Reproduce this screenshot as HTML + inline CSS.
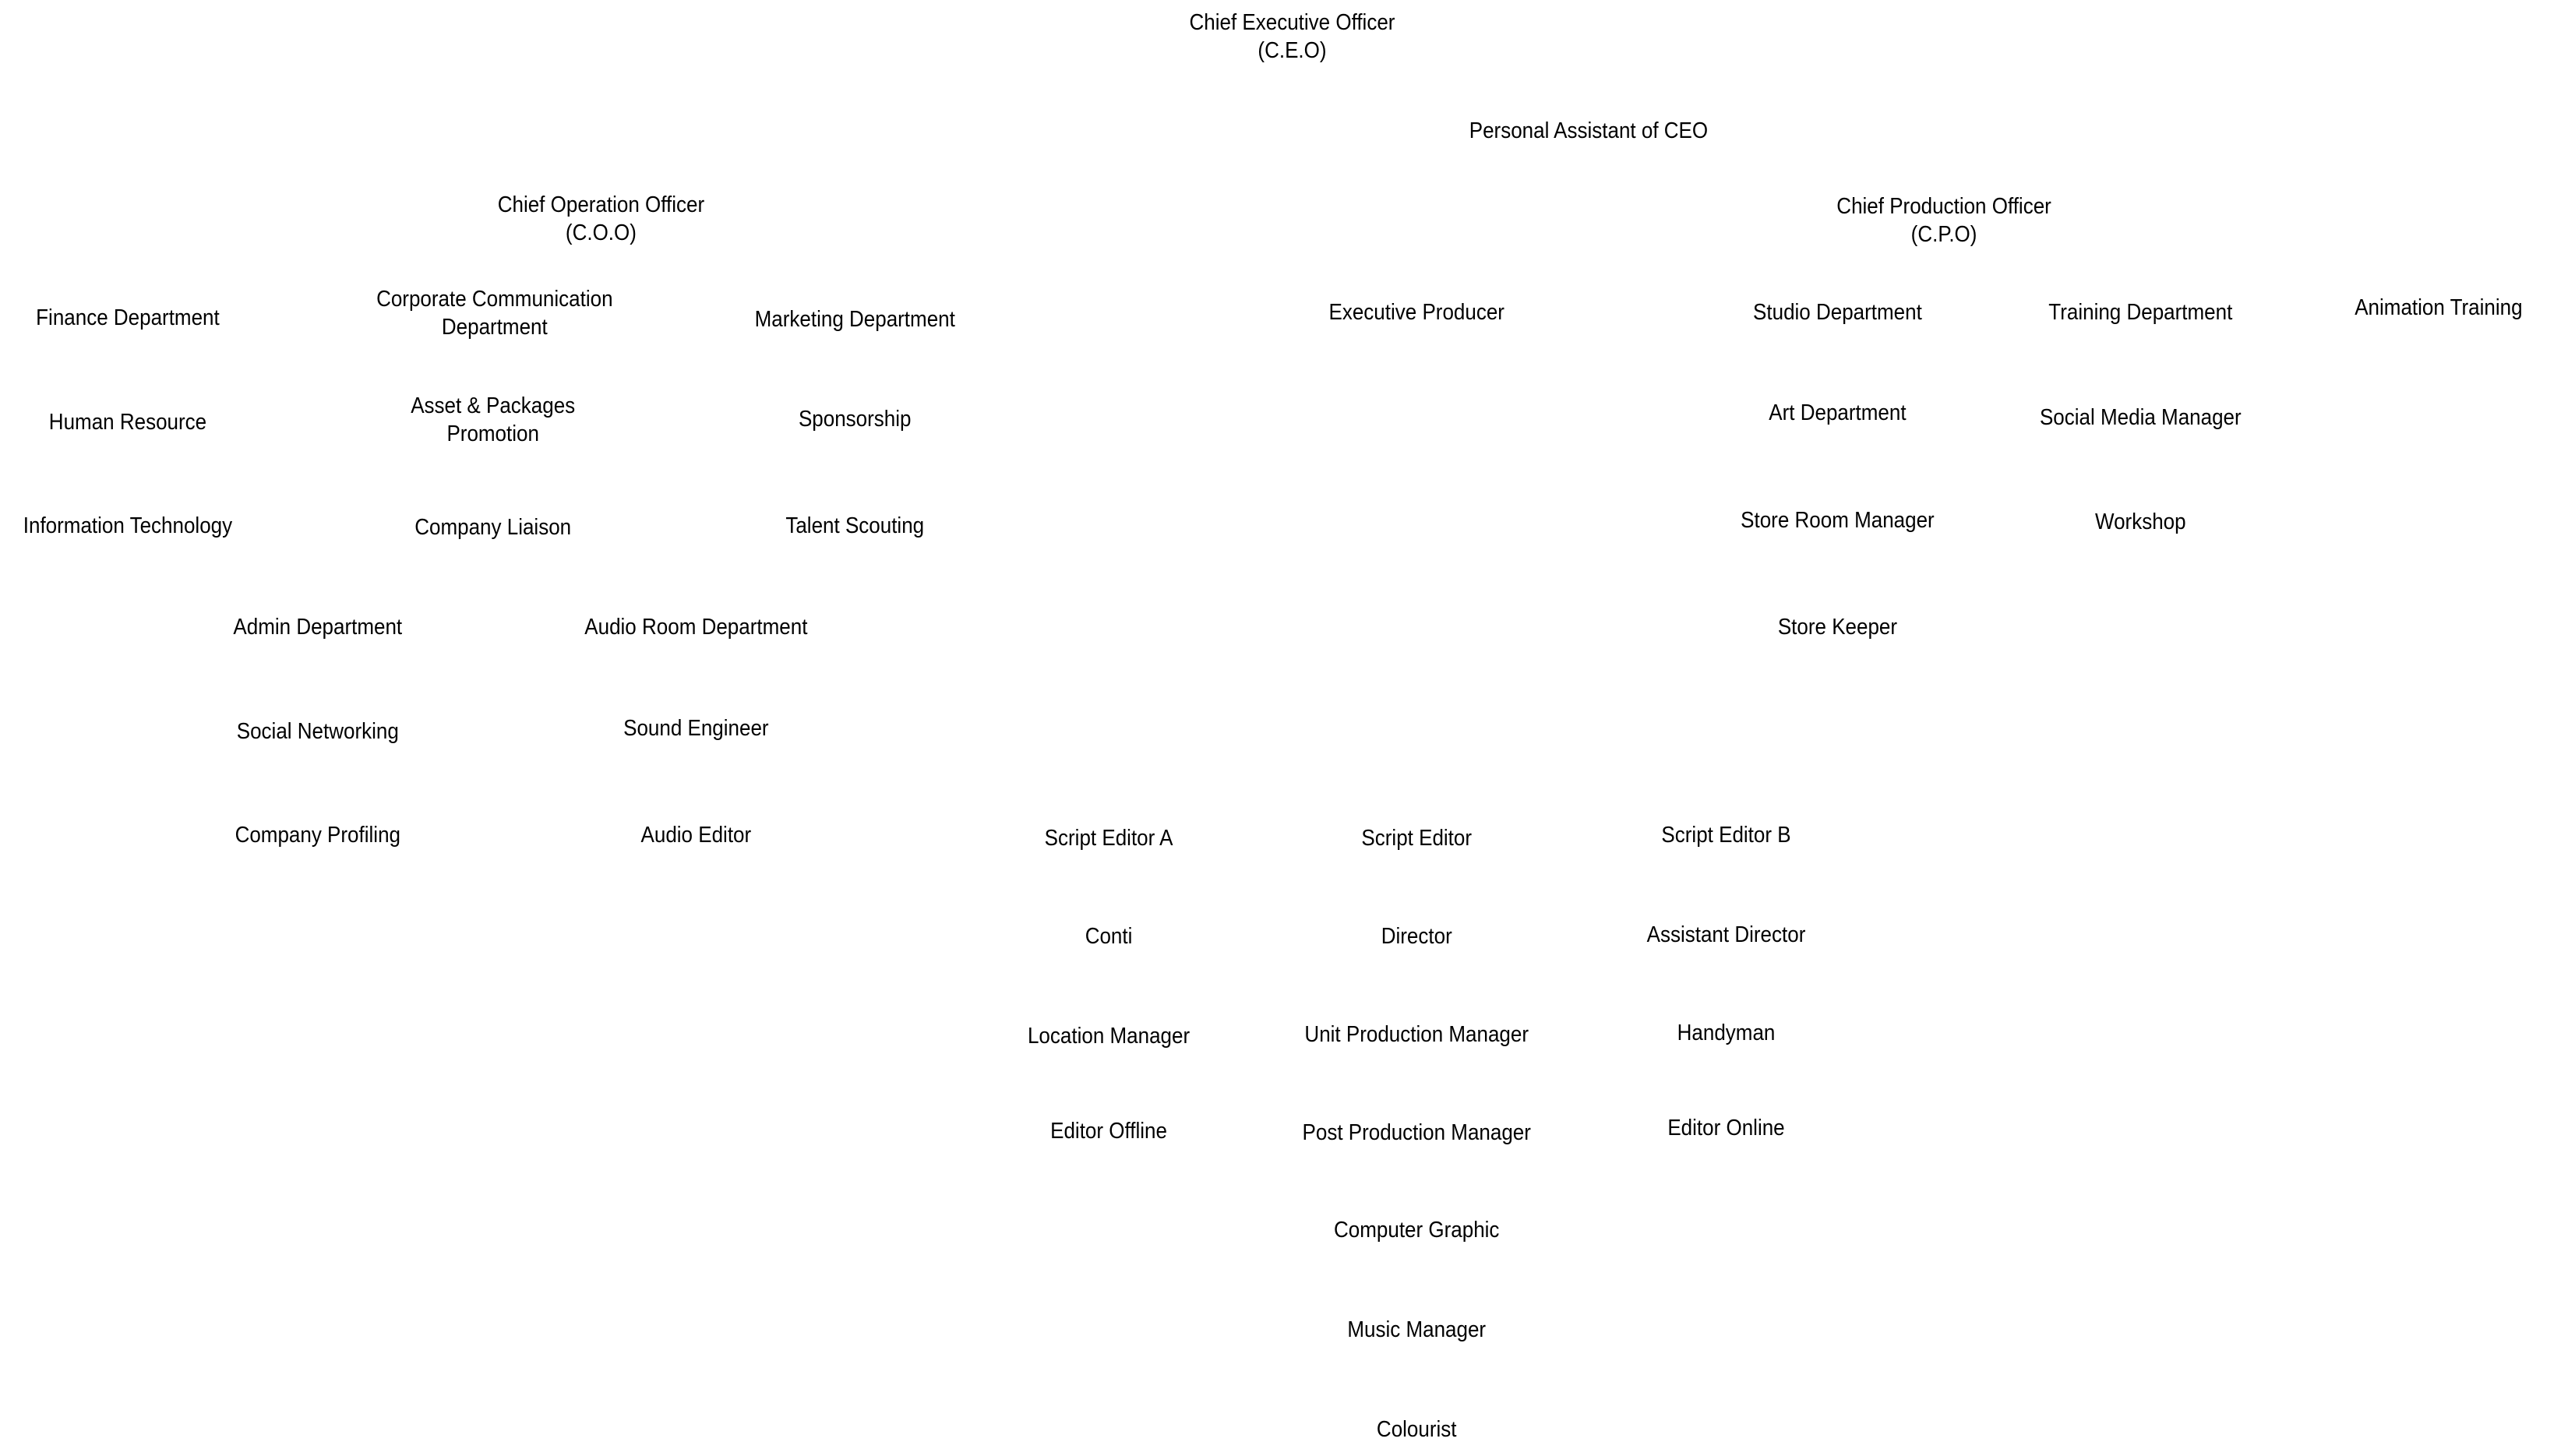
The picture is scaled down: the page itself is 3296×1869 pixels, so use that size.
<!DOCTYPE html>
<html><head><meta charset="utf-8">
<style>
html,body{margin:0;padding:0;background:#fff;}
body{width:3296px;height:1869px;position:relative;overflow:hidden;font-family:"Liberation Sans",sans-serif;font-size:26px;color:#000;}
div.t{position:absolute;left:calc(var(--x)*2.102px);top:calc(var(--y)*2.102px + 1px);transform:translate(-50%,-50%) scaleY(1.12);white-space:nowrap;text-align:center;line-height:32px;}
</style></head><body>
<div class="t" style="--x:789;--y:21.5">Chief Executive Officer<br>(C.E.O)</div>
<div class="t" style="--x:970;--y:79">Personal Assistant of CEO</div>
<div class="t" style="--x:367;--y:132.5">Chief Operation Officer<br>(C.O.O)</div>
<div class="t" style="--x:1187;--y:133.5">Chief Production Officer<br>(C.P.O)</div>
<div class="t" style="--x:78;--y:193">Finance Department</div>
<div class="t" style="--x:302;--y:190.5">Corporate Communication<br>Department</div>
<div class="t" style="--x:522;--y:194">Marketing Department</div>
<div class="t" style="--x:865;--y:190">Executive Producer</div>
<div class="t" style="--x:1122;--y:190">Studio Department</div>
<div class="t" style="--x:1307;--y:190">Training Department</div>
<div class="t" style="--x:1489;--y:187">Animation Training</div>
<div class="t" style="--x:78;--y:257">Human Resource</div>
<div class="t" style="--x:301;--y:255.5">Asset &amp; Packages<br>Promotion</div>
<div class="t" style="--x:522;--y:255">Sponsorship</div>
<div class="t" style="--x:1122;--y:251">Art Department</div>
<div class="t" style="--x:1307;--y:254">Social Media Manager</div>
<div class="t" style="--x:78;--y:320">Information Technology</div>
<div class="t" style="--x:301;--y:321">Company Liaison</div>
<div class="t" style="--x:522;--y:320">Talent Scouting</div>
<div class="t" style="--x:1122;--y:317">Store Room Manager</div>
<div class="t" style="--x:1307;--y:318">Workshop</div>
<div class="t" style="--x:194;--y:382">Admin Department</div>
<div class="t" style="--x:425;--y:382">Audio Room Department</div>
<div class="t" style="--x:1122;--y:382">Store Keeper</div>
<div class="t" style="--x:194;--y:446">Social Networking</div>
<div class="t" style="--x:425;--y:444">Sound Engineer</div>
<div class="t" style="--x:194;--y:509">Company Profiling</div>
<div class="t" style="--x:425;--y:509">Audio Editor</div>
<div class="t" style="--x:677;--y:511">Script Editor A</div>
<div class="t" style="--x:865;--y:511">Script Editor</div>
<div class="t" style="--x:1054;--y:509">Script Editor B</div>
<div class="t" style="--x:677;--y:571">Conti</div>
<div class="t" style="--x:865;--y:571">Director</div>
<div class="t" style="--x:1054;--y:570">Assistant Director</div>
<div class="t" style="--x:677;--y:632">Location Manager</div>
<div class="t" style="--x:865;--y:631">Unit Production Manager</div>
<div class="t" style="--x:1054;--y:630">Handyman</div>
<div class="t" style="--x:677;--y:690">Editor Offline</div>
<div class="t" style="--x:865;--y:691">Post Production Manager</div>
<div class="t" style="--x:1054;--y:688">Editor Online</div>
<div class="t" style="--x:865;--y:750">Computer Graphic</div>
<div class="t" style="--x:865;--y:811">Music Manager</div>
<div class="t" style="--x:865;--y:872">Colourist</div>
</body></html>
